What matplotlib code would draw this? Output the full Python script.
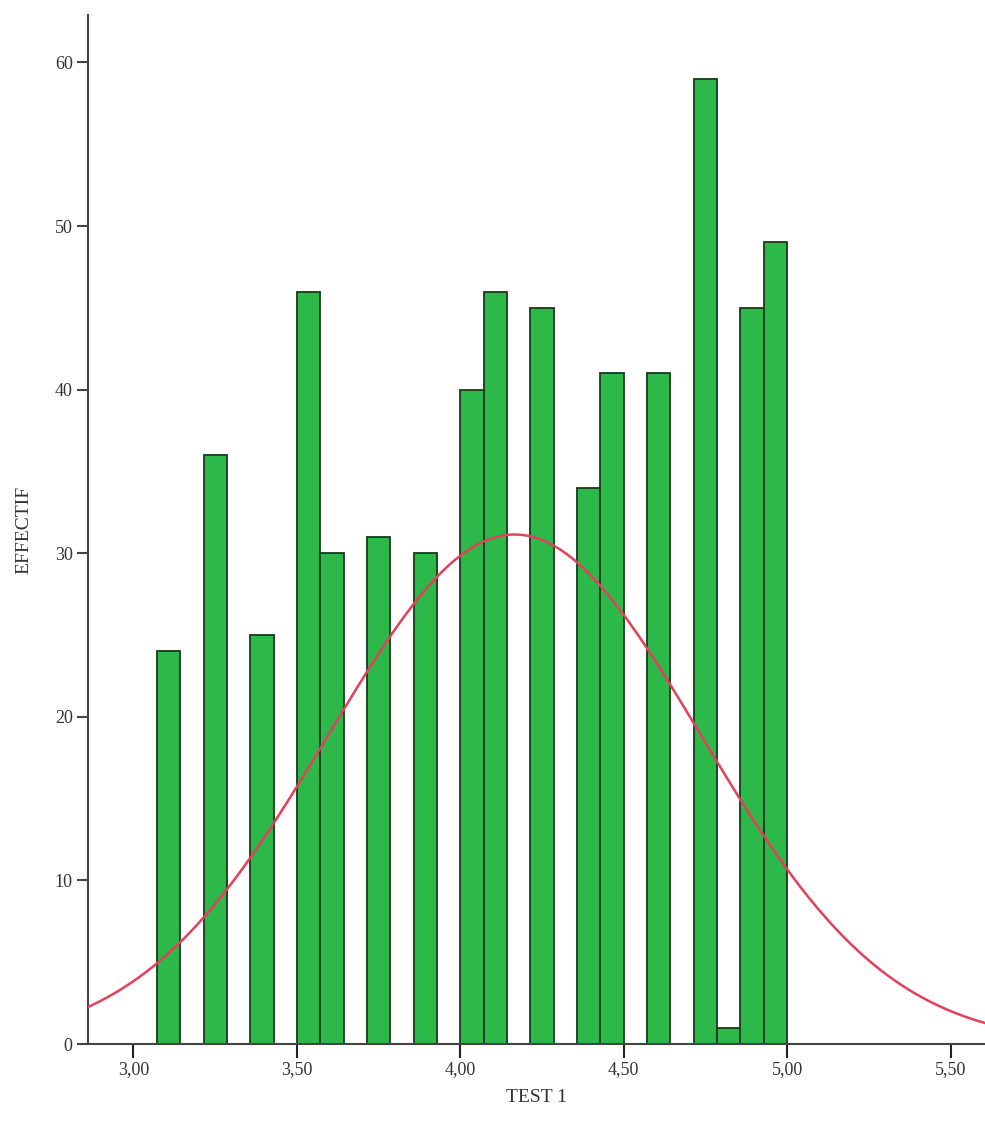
import numpy as np
import matplotlib
matplotlib.use("Agg")
import matplotlib.pyplot as plt

# Histogram data (bin width 1/14, first bin starts at 3 + 1/14)
bin_start = 3.0 + 1.0 / 14.0
bin_width = 1.0 / 14.0
counts = [24, 0, 36, 0, 25, 0, 46, 30, 0, 31, 0, 30, 0, 40, 46, 0,
          45, 0, 34, 41, 0, 41, 0, 59, 1, 45, 49]

# Normal curve parameters
mean_value = 4.166
std_value = 0.570

x_ticks = [3.0, 3.5, 4.0, 4.5, 5.0, 5.5]
x_tick_labels = ["3,00", "3,50", "4,00", "4,50", "5,00", "5,50"]
y_ticks = [0, 10, 20, 30, 40, 50, 60]

fig = plt.figure(figsize=(9.85, 11.22), dpi=100)
ax = fig.add_axes([0.0893, 0.0695, 0.9107, 0.9171])

lefts = bin_start + bin_width * np.arange(len(counts))
ax.bar(lefts, counts, width=bin_width, align="edge",
       color="#2db84a", edgecolor="#173a1c", linewidth=1.3, zorder=2)

n_total = sum(counts)
xs = np.linspace(2.8, 5.7, 600)
ys = n_total * bin_width / (std_value * np.sqrt(2 * np.pi)) * np.exp(-0.5 * ((xs - mean_value) / std_value) ** 2)
ax.plot(xs, ys, color="#e3405a", linewidth=1.8, zorder=3)

ax.set_xlim(2.8607, 5.6054)
ax.set_ylim(0, 62.9)

ax.spines["top"].set_visible(False)
ax.spines["right"].set_visible(False)
for s in ("left", "bottom"):
    ax.spines[s].set_color("#444444")
    ax.spines[s].set_linewidth(1.5)

serif = ["Liberation Serif", "DejaVu Serif"]
ax.set_xticks(x_ticks)
ax.set_xticklabels(x_tick_labels, fontsize=13, family=serif, color="#333333")
ax.set_yticks(y_ticks)
ax.set_yticklabels([str(v) for v in y_ticks], fontsize=13, family=serif, color="#333333")
ax.tick_params(axis="x", direction="out", length=10, width=1.5, color="#222222", pad=2)
ax.tick_params(axis="y", direction="out", length=8, width=1.5, color="#444444", pad=3)

ax.set_xlabel("TEST 1", fontsize=14, family=serif, color="#333333", labelpad=8)
ax.set_ylabel("EFFECTIF", fontsize=14, family=serif, color="#333333", labelpad=16)

fig.savefig("out.png", dpi=100, facecolor="white")
